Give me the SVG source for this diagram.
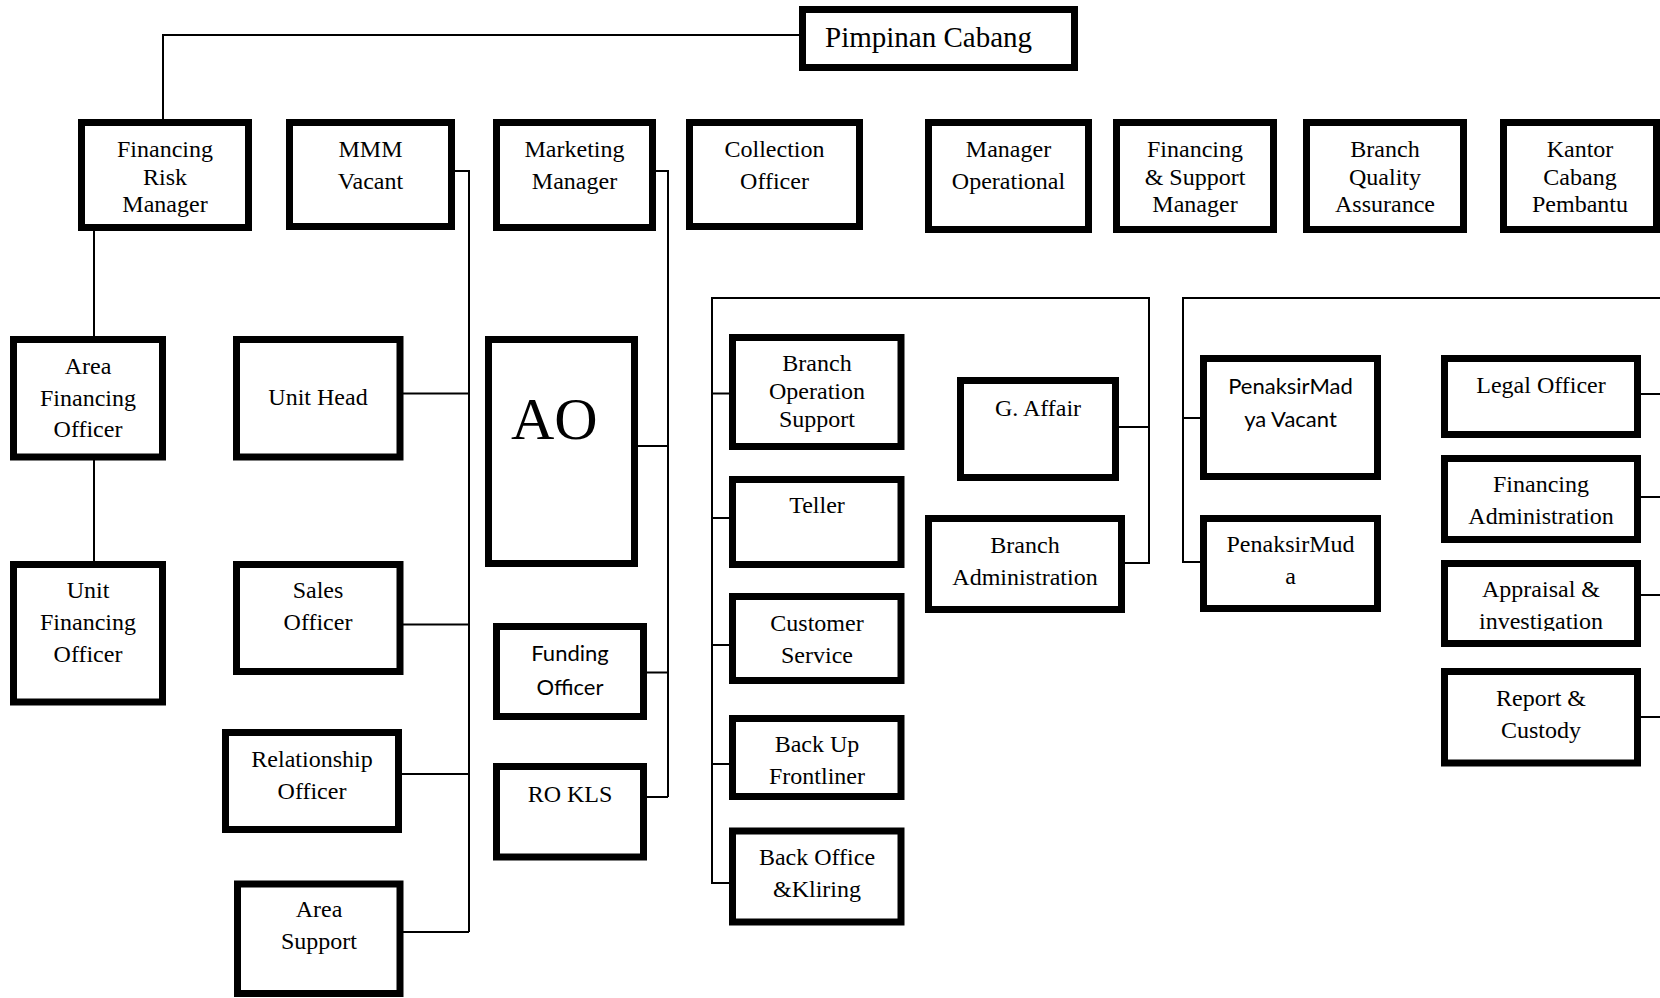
<svg xmlns="http://www.w3.org/2000/svg" width="1660" height="998" viewBox="0 0 1660 998">
<defs>
<style>
.b{fill:#fff;stroke:#000;stroke-width:7}
.t{font-family:"Liberation Serif","Times New Roman",serif;font-size:24px;fill:#000;text-anchor:middle}
.s{font-family:Lato,"Noto Sans",sans-serif;font-size:22px;fill:#000;text-anchor:middle}
.c{fill:none;stroke:#000;stroke-width:2}
</style>
<clipPath id="clipAI"><rect x="1440" y="550" width="210" height="81"/></clipPath>
</defs>
<rect width="1660" height="998" fill="#fff"/>
<g id="connectors" class="c">
<path d="M799,35 H163 V119"/>
<path d="M94,231 V336"/>
<path d="M94,460 V561"/>
<path d="M455,171 H469 V932"/>
<path d="M403,393.5 H469 M403,624.5 H469 M402,774 H469 M403,932 H469"/>
<path d="M656,171 H668 V797"/>
<path d="M638,446 H668 M647,672.5 H668 M647,797 H668"/>
<path d="M729,883 H712 V298 H1149 V563 H1125"/>
<path d="M712,393.5 H729 M712,518 H729 M712,645 H729 M712,764 H729 M1119,427 H1149"/>
<path d="M1200,562 H1183 V298 H1660"/>
<path d="M1183,418 H1200"/>
<path d="M1641,394 H1660 M1641,497 H1660 M1641,595 H1660 M1641,717 H1660"/>
</g>
<g id="pimpinan"><rect class="b" x="802.5" y="9.5" width="272" height="58"/><text class="t" x="825" y="47" style="text-anchor:start;font-size:29px">Pimpinan Cabang</text></g>
<g id="frm"><rect class="b" x="81.5" y="122.5" width="167" height="105"/><text class="t" x="165" y="157">Financing</text><text class="t" x="165" y="185">Risk</text><text class="t" x="165" y="212">Manager</text></g>
<g id="mmm"><rect class="b" x="289.5" y="122.5" width="162" height="104"/><text class="t" x="370.5" y="157">MMM</text><text class="t" x="370.5" y="189">Vacant</text></g>
<g id="mm"><rect class="b" x="496.5" y="122.5" width="156" height="105"/><text class="t" x="574.5" y="157">Marketing</text><text class="t" x="574.5" y="189">Manager</text></g>
<g id="co"><rect class="b" x="689.5" y="122.5" width="170" height="104"/><text class="t" x="774.5" y="157">Collection</text><text class="t" x="774.5" y="189">Officer</text></g>
<g id="mo"><rect class="b" x="928.5" y="122.5" width="160" height="107"/><text class="t" x="1008.5" y="157">Manager</text><text class="t" x="1008.5" y="189">Operational</text></g>
<g id="fsm"><rect class="b" x="1116.5" y="122.5" width="157" height="107"/><text class="t" x="1195" y="157">Financing</text><text class="t" x="1195" y="185">&amp; Support</text><text class="t" x="1195" y="212">Manager</text></g>
<g id="bqa"><rect class="b" x="1306.5" y="122.5" width="157" height="107"/><text class="t" x="1385" y="157">Branch</text><text class="t" x="1385" y="185">Quality</text><text class="t" x="1385" y="212">Assurance</text></g>
<g id="kcp"><rect class="b" x="1503.5" y="122.5" width="153" height="107"/><text class="t" x="1580" y="157">Kantor</text><text class="t" x="1580" y="185">Cabang</text><text class="t" x="1580" y="212">Pembantu</text></g>
<g id="afo"><rect class="b" x="13.5" y="339.5" width="149" height="117.5"/><text class="t" x="88" y="374">Area</text><text class="t" x="88" y="406">Financing</text><text class="t" x="88" y="437">Officer</text></g>
<g id="ufo"><rect class="b" x="13.5" y="564.5" width="149" height="137.5"/><text class="t" x="88" y="598">Unit</text><text class="t" x="88" y="630">Financing</text><text class="t" x="88" y="662">Officer</text></g>
<g id="uh"><rect class="b" x="236.5" y="339.5" width="163.5" height="117.5"/><text class="t" x="318" y="405">Unit Head</text></g>
<g id="so"><rect class="b" x="236.5" y="564.5" width="163.5" height="107"/><text class="t" x="318" y="598">Sales</text><text class="t" x="318" y="630">Officer</text></g>
<g id="ro"><rect class="b" x="225.5" y="732.5" width="173" height="97"/><text class="t" x="312" y="767">Relationship</text><text class="t" x="312" y="799">Officer</text></g>
<g id="as"><rect class="b" x="237.5" y="884" width="162.5" height="109.5"/><text class="t" x="319" y="917">Area</text><text class="t" x="319" y="949">Support</text></g>
<g id="ao"><rect class="b" x="488.5" y="339.5" width="146" height="224"/><text class="t" x="511" y="439" style="text-anchor:start;font-size:60px">AO</text></g>
<g id="fo"><rect class="b" x="496.5" y="626.5" width="147" height="90"/><text class="s" x="570" y="661">Funding</text><text class="s" x="570" y="695">Officer</text></g>
<g id="rokls"><rect class="b" x="496.5" y="766.5" width="147" height="90.5"/><text class="t" x="570" y="802">RO KLS</text></g>
<g id="bos"><rect class="b" x="732.5" y="337.5" width="168.5" height="109"/><text class="t" x="817" y="371">Branch</text><text class="t" x="817" y="399">Operation</text><text class="t" x="817" y="427">Support</text></g>
<g id="teller"><rect class="b" x="732.5" y="479.5" width="168.5" height="85"/><text class="t" x="817" y="513">Teller</text></g>
<g id="cs"><rect class="b" x="732.5" y="596.5" width="168.5" height="84"/><text class="t" x="817" y="631">Customer</text><text class="t" x="817" y="663">Service</text></g>
<g id="buf"><rect class="b" x="732.5" y="718.5" width="168.5" height="78"/><text class="t" x="817" y="752">Back Up</text><text class="t" x="817" y="784">Frontliner</text></g>
<g id="bok"><rect class="b" x="732.5" y="831" width="168.5" height="91"/><text class="t" x="817" y="865">Back Office</text><text class="t" x="817" y="897">&amp;Kliring</text></g>
<g id="ga"><rect class="b" x="960.5" y="380.5" width="155" height="97"/><text class="t" x="1038" y="416">G. Affair</text></g>
<g id="ba"><rect class="b" x="928.5" y="518.5" width="193" height="91"/><text class="t" x="1025" y="553">Branch</text><text class="t" x="1025" y="585">Administration</text></g>
<g id="pmv"><rect class="b" x="1203.5" y="358.5" width="174" height="118"/><text class="s" x="1290.5" y="394">PenaksirMad</text><text class="s" x="1290.5" y="427">ya Vacant</text></g>
<g id="pm"><rect class="b" x="1203.5" y="518.5" width="174" height="90"/><text class="t" x="1290.5" y="552">PenaksirMud</text><text class="t" x="1290.5" y="584">a</text></g>
<g id="lo"><rect class="b" x="1444.5" y="358.5" width="193" height="76"/><text class="t" x="1541" y="393">Legal Officer</text></g>
<g id="fa"><rect class="b" x="1444.5" y="458.5" width="193" height="81"/><text class="t" x="1541" y="492">Financing</text><text class="t" x="1541" y="524">Administration</text></g>
<g id="ai"><rect class="b" x="1444.5" y="563.5" width="193" height="80"/><text class="t" x="1541" y="597">Appraisal &amp;</text><text class="t" x="1541" y="629" clip-path="url(#clipAI)">investigation</text></g>
<g id="rc"><rect class="b" x="1444.5" y="671.5" width="193" height="91.5"/><text class="t" x="1541" y="706">Report &amp;</text><text class="t" x="1541" y="738">Custody</text></g>
</svg>
